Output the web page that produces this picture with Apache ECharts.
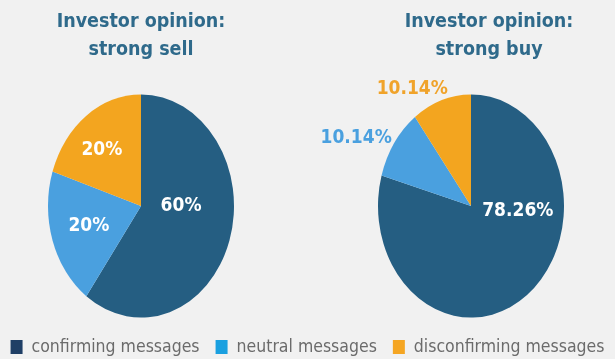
<!DOCTYPE html>
<html><head><meta charset="utf-8">
<script src="https://cdn.jsdelivr.net/npm/echarts@6/dist/echarts.min.js"></script>
<style>
html,body{margin:0;padding:0;background:#f1f1f1;}
#wrap{position:relative;width:615px;height:359px;overflow:hidden;background:#f1f1f1;}
#pies,#main{position:absolute;left:0;top:0;width:615px;height:359px;}
#pies{transform:scaleY(1.2);transform-origin:0 206px;}
</style></head>
<body><div id="wrap"><div id="pies"></div><div id="main"></div></div>
<script>
// ---- data ----
const categories = ['confirming messages', 'neutral messages', 'disconfirming messages'];
const pieTitles = ['Investor opinion:\nstrong sell', 'Investor opinion:\nstrong buy'];
const strongSell = [60, 20, 20];
const strongBuy = [78.26, 10.14, 10.14];

// ---- styles ----
const FONT = '"DejaVu Sans Condensed", "DejaVu Sans", sans-serif';
const sliceColors = ['#255e82', '#4aa0df', '#f3a51f'];
const legendColors = ['#1f3f66', '#1aa0e0', '#f5a623'];
const centers = [[141, 206], [471, 206]];
const R = 93;
const labelColors = [['#ffffff', '#ffffff', '#ffffff'], ['#ffffff', '#4aa0df', '#f0a32a']];
// label nudges relative to default inside position
const nudges = [[[-7, -15], [-5, 5], [-10, -16]], [[17, -34], [-74, -40], [-43, -70]]];

function pieData(values, pieIdx, transparent) {
  return values.map((v, i) => ({
    name: categories[i],
    value: v,
    itemStyle: { color: transparent ? 'rgba(0,0,0,0)' : sliceColors[i] },
    label: { color: labelColors[pieIdx][i] }
  }));
}

// Bottom layer: filled pies (stretched vertically to ellipses by CSS)
const pies = echarts.init(document.getElementById('pies'), null, { renderer: 'svg' });
pies.setOption({
  animation: false,
  backgroundColor: 'transparent',
  series: [strongSell, strongBuy].map((vals, k) => ({
    type: 'pie',
    center: centers[k],
    radius: R,
    startAngle: 90,
    clockwise: true,
    silent: true,
    label: { show: false },
    labelLine: { show: false },
    itemStyle: { borderWidth: 0 },
    data: pieData(vals, k, false)
  }))
});

// Top layer: titles, labels and legend
const chart = echarts.init(document.getElementById('main'));
chart.setOption({
  animation: false,
  backgroundColor: 'transparent',
  title: pieTitles.map((t, k) => ({
    text: t,
    left: k === 0 ? 141 : 489,
    top: 8,
    textAlign: 'center',
    padding: 0,
    textStyle: { fontFamily: FONT, fontSize: 19.5, fontWeight: 'bold', lineHeight: 28, color: '#2f6a8b' }
  })),
  legend: {
    top: 338,
    left: 'center',
    padding: 0,
    icon: 'rect',
    itemWidth: 12,
    itemHeight: 14,
    itemGap: 16,
    selectedMode: false,
    textStyle: { fontFamily: FONT, fontSize: 17.5, lineHeight: 18, color: '#6b6b6b', padding: [0, 0, 0, 4] },
    data: categories.map((c, i) => ({ name: c, itemStyle: { color: legendColors[i] } }))
  },
  series: [strongSell, strongBuy].map((vals, k) => ({
    type: 'pie',
    center: centers[k],
    radius: R,
    startAngle: 90,
    clockwise: true,
    silent: true,
    label: {
      show: true,
      position: 'inside',
      formatter: '{c}%',
      fontFamily: FONT,
      fontSize: 19,
      fontWeight: 'bold'
    },
    labelLine: { show: false },
    labelLayout: (p) => ({ dx: nudges[k][p.dataIndex][0], dy: nudges[k][p.dataIndex][1] }),
    itemStyle: { borderWidth: 0 },
    data: pieData(vals, k, true)
  }))
});
</script>
</body></html>
